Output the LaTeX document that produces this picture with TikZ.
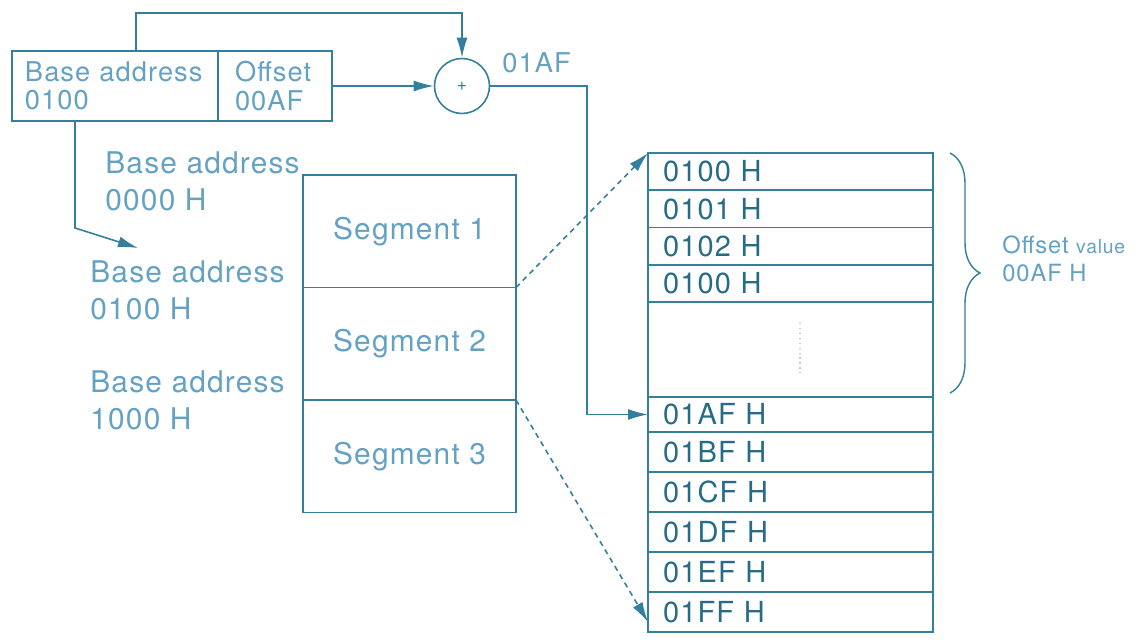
\documentclass[tikz,border=0pt]{standalone}
\usepackage{fontspec}
\setmainfont{TeX Gyre Heros}[LetterSpace=4]
\usepackage{tikz}
\usetikzlibrary{arrows.meta,positioning,decorations.pathreplacing}
\definecolor{linea}{RGB}{50,128,155}
\definecolor{testochiaro}{RGB}{100,162,195}
\definecolor{testoscuro}{RGB}{38,108,135}

\begin{document}
\begin{tikzpicture}[
    freccia/.style={-{Latex[length=4mm,width=2.2mm]}, linea, line width=0.9pt},
    cella/.style={draw=linea, line width=0.9pt, inner sep=0pt, outer sep=0pt},
    campo/.style={cella, anchor=north west, minimum height=1.4cm, text width=#1, align=left, font=\fontsize{15.5}{16}\selectfont, text=testochiaro},
    segm/.style={cella, minimum width=4.26cm, minimum height=2.25cm, font=\fontsize{17}{18}\selectfont, text=testochiaro},
    riga/.style={cella, anchor=north west, text width=5.1cm, minimum height=#1, inner xsep=0.3cm, align=left, font=\fontsize{16.5}{18}\selectfont, text=testoscuro},
    etichetta/.style={anchor=west, align=left, inner sep=0pt, font=\fontsize{17}{21}\selectfont, text=testochiaro}
]
\useasboundingbox (0,0) rectangle (22.94,12.78);

% Registro base + offset
\node[campo=3.6cm, inner xsep=0.26cm] (base) at (0.24,11.76) {Base address\\0100};
\node[campo=1.6cm, inner xsep=0.34cm, right=0pt of base] (offs) {Offset\\00AF};

% Sommatore
\node[circle, draw=linea, line width=0.9pt, minimum size=1.1cm, inner sep=0pt, text=linea, font=\fontsize{10}{10}\selectfont] (somma) at (9.24,11.06) {+};
\node[anchor=west, inner sep=0pt, text=testochiaro, font=\fontsize{15.5}{16}\selectfont] (somlab) at (10.04,11.52) {01AF};
\draw[freccia] (offs) -- (somma);
\draw[freccia] ([xshift=2.48cm]base.north west) -- ++(0,0.76) -| (somma.north);

% Segmenti
\node[segm, anchor=north west] (seg1) at (6.06,9.28) {Segment 1};
\node[segm, below=0pt of seg1] (seg2) {Segment 2};
\node[segm, below=0pt of seg2] (seg3) {Segment 3};

% Indirizzi base a sinistra
\node[etichetta] (ind0) at (2.1,9.15) {Base address\\0000 H};
\node[etichetta] (ind1) at (1.8,6.97) {Base address\\0100 H};
\node[etichetta] (ind2) at (1.8,4.78) {Base address\\1000 H};
\coordinate (gomito) at (1.5,8.22);
\coordinate (punta) at (2.76,7.82);
\draw[freccia] ([xshift=1.26cm]base.south west) -- (gomito) -- (punta);

% Memoria
\node[riga=0.745cm] (m1) at (12.96,9.72) {0100 H};
\foreach \testo [count=\i from 2] in {0101 H, 0102 H, 0100 H}{
    \pgfmathtruncatemacro\prec{\i-1}
    \node[riga=0.745cm, below=0pt of m\prec] (m\i) {\testo};
}
\node[riga=1.9cm, below=0pt of m4] (vuoto) {};
\draw[dotted, gray!45, line width=0.8pt] ([shift={(3.04,-0.42)}]vuoto.north west) -- ++(0,-1.0);
\node[riga=0.7cm, below=0pt of vuoto] (r1) {01AF H};
\foreach \testo [count=\i from 2] in {01BF H, 01CF H, 01DF H, 01EF H, 01FF H}{
    \pgfmathtruncatemacro\prec{\i-1}
    \node[riga=0.8cm, below=0pt of r\prec] (r\i) {\testo};
}

% Uscita del sommatore
\coordinate (svolta) at (11.74,11.06);
\draw[freccia] (somma) -- (svolta) |- (r1.west);

% Frecce tratteggiate
\draw[freccia, dash pattern=on 3pt off 2.5pt] (seg1.south east) -- (m1.north west);
\draw[freccia, dash pattern=on 3pt off 2.5pt] (seg2.south east) -- ([yshift=0.2cm]r6.south west);

% Graffa offset
\draw[linea, line width=0.8pt, decorate, decoration={brace, amplitude=0.6cm}] (19.0,9.72) -- (19.0,4.92);
\node[anchor=west, align=left, inner sep=0pt, text=testochiaro, font=\fontsize{13.5}{16}\selectfont] (offlab) at (20.04,7.6) {Offset {\fontsize{11}{12}\selectfont value}\\00AF H};

\end{tikzpicture}
\end{document}
